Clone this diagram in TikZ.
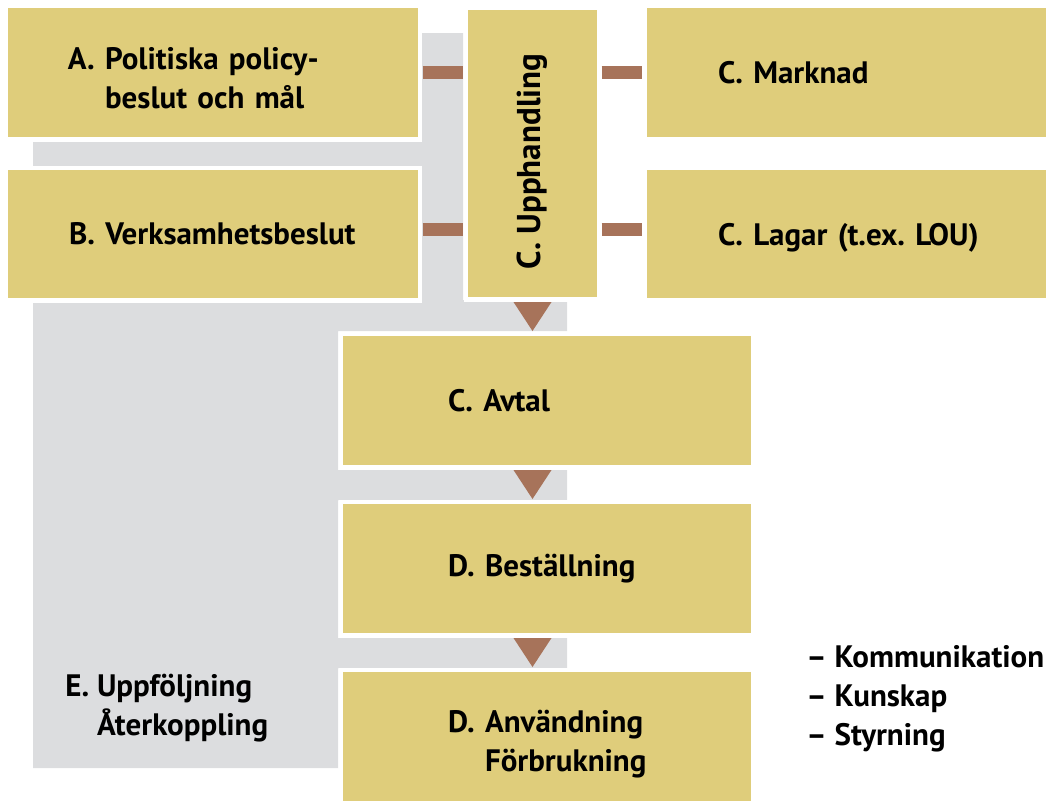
\documentclass[tikz,border=0pt]{standalone}
\usepackage{fontspec}
\setmainfont{PT Sans}
\usetikzlibrary{positioning, calc}
\definecolor{boxyellow}{HTML}{DFCD7B}
\definecolor{linkbrown}{HTML}{A7735A}
\definecolor{backgray}{HTML}{DCDDDF}
\hyphenpenalty=10000

\begin{document}
\begin{tikzpicture}[x=0.5pt, y=-0.5pt, font=\fontsize{15.5}{19.5}\selectfont\bfseries]
    \tikzstyle{box}=[rectangle, fill=boxyellow, draw=white, line width=2.25pt, outer sep=0pt, minimum height=66.75pt, inner ysep=0pt, align=left]
    \tikzstyle{link}=[draw=linkbrown, line width=6.5pt, shorten <=1.2pt, shorten >=1.2pt]
    \tikzstyle{flow}=[fill=linkbrown]

    \useasboundingbox (0,0) rectangle (1046,800);

    % feedback area behind the boxes
    \fill[backgray] (33,33) -- (463,33) -- (463,300) -- (567,300) -- (567,331) -- (338,331)
        -- (338,470) -- (567,470) -- (567,500) -- (338,500) -- (338,638) -- (567,638)
        -- (567,668) -- (338,668) -- (338,768) -- (33,768) -- cycle;

    % decisions
    \node[box, inner xsep=31.1pt, text width=145pt] (A) at (213,72.5) {\rule{0pt}{16.5pt}A.~Politiska policy-\\\phantom{A.~}beslut och mål};
    \node[box, inner xsep=31.6pt, text width=144pt, minimum height=66.25pt, below=14.25pt of A] (B) {B.~Verksamhetsbeslut};

    % procurement
    \node[box, inner sep=0pt, minimum width=66.75pt, minimum height=145.75pt, font=\fontsize{16.5}{19.5}\selectfont\bfseries] (Upph) at (532.5,153.5) {\rotatebox{90}{C.~Upphandling\hspace{8pt}}};
    \node[box, inner xsep=36.6pt, text width=130.5pt] (Marknad) at (848.5,72.5) {C.~Marknad};
    \node[box, inner xsep=36.6pt, text width=130.5pt, text depth=0pt, minimum height=66.25pt, below=14.25pt of Marknad] (Lagar) {C.~Lagar~(t.ex.~LOU)};

    % contract and use
    \node[box, inner xsep=53.6pt, text width=99pt] (Avtal) at (547,400.5) {C.~Avtal};
    \node[box, inner xsep=53.6pt, text width=99pt, below=17.25pt of Avtal] (Best) {D.~Beställning};
    \node[box, inner xsep=53.6pt, text width=99pt, minimum height=74.25pt, below=17.25pt of Best] (Anv) {D.~Användning\\\phantom{D.~}Förbrukning};

    \node[anchor=west, inner sep=0pt, align=left] (E) at (65,708.5) {E.~Uppföljning\\\phantom{E.~}Återkoppling};
    \node[anchor=west, inner sep=0pt, align=left] (list) at (806,698.5) {–~Kommunikation\\–~Kunskap\\–~Styrning};

    \draw[link] (A.east) -- (A.east -| Upph.west);
    \draw[link] ([yshift=2.25pt]B.east) -- ([yshift=2.25pt]B.east -| Upph.west);
    \draw[link] (Marknad.west -| Upph.east) -- (Marknad.west);
    \draw[link] ([yshift=2.25pt]Lagar.west -| Upph.east) -- ([yshift=2.25pt]Lagar.west);

    \foreach \from/\to in {Upph/Avtal, Avtal/Best, Best/Anv}
        \fill[flow] ($(\from.south -| Upph.south)+(-19,2.75)$) -- ++(38,0) -- ($(\to.north -| Upph.south)+(0,-2.75)$) -- cycle;
\end{tikzpicture}
\end{document}
